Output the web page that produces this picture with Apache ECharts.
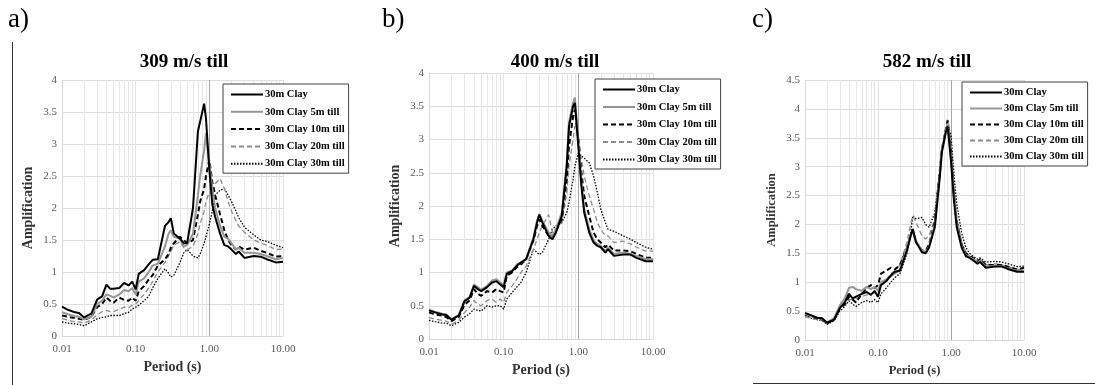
<!DOCTYPE html>
<html>
<head>
<meta charset="utf-8">
<script src="https://cdn.jsdelivr.net/npm/echarts@6/dist/echarts.min.js"></script>
<style>
html, body { margin: 0; padding: 0; background: #fff; }
#chart { width: 1095px; height: 385px; }
</style>
</head>
<body>
<div id="chart"></div>
<script>
// 周期 (s)，三张图共用
const periods = [
  0.01, 0.012, 0.015, 0.017, 0.02, 0.025, 0.03, 0.035,
  0.04, 0.045, 0.05, 0.06, 0.07, 0.08, 0.09, 0.1,
  0.11, 0.13, 0.15, 0.17, 0.2, 0.25, 0.28, 0.3,
  0.33, 0.4, 0.45, 0.5, 0.6, 0.7, 0.75, 0.85,
  0.9, 1.0, 1.1, 1.2, 1.4, 1.6, 1.8, 2.0,
  2.3, 2.5, 3.0, 4.0, 5.0, 6.0, 8.0, 10
]
const seriesNames = ['30m Clay', '30m Clay 5m till', '30m Clay 10m till', '30m Clay 20m till', '30m Clay 30m till']
const xTicks = [0.01, 0.1, 1, 10]
const xTickLabels = ['0.01', '0.10', '1.00', '10.00']

// a) 309 m/s till
const a_clay = [
  0.46, 0.41, 0.37, 0.36, 0.29, 0.35, 0.57, 0.62,
  0.80, 0.74, 0.74, 0.75, 0.83, 0.79, 0.85, 0.73,
  0.97, 1.03, 1.12, 1.19, 1.20, 1.72, 1.78, 1.84,
  1.60, 1.52, 1.45, 1.45, 2.00, 3.20, 3.35, 3.63,
  3.40, 2.60, 2.05, 1.86, 1.60, 1.42, 1.40, 1.35,
  1.28, 1.32, 1.22, 1.25, 1.24, 1.20, 1.15, 1.16
]
const a_till5 = [
  0.37, 0.34, 0.31, 0.30, 0.26, 0.30, 0.50, 0.55,
  0.65, 0.63, 0.60, 0.65, 0.72, 0.70, 0.75, 0.65,
  0.85, 0.90, 1.00, 1.10, 1.13, 1.40, 1.60, 1.65,
  1.55, 1.52, 1.40, 1.42, 1.60, 2.20, 2.50, 2.90,
  3.17, 2.70, 2.30, 2.00, 1.72, 1.55, 1.52, 1.45,
  1.35, 1.38, 1.30, 1.30, 1.28, 1.25, 1.20, 1.22
]
const a_till10 = [
  0.32, 0.30, 0.28, 0.27, 0.25, 0.30, 0.45, 0.50,
  0.60, 0.55, 0.52, 0.60, 0.56, 0.55, 0.60, 0.55,
  0.70, 0.78, 0.88, 0.95, 1.10, 1.20, 1.28, 1.38,
  1.45, 1.55, 1.50, 1.45, 1.50, 1.90, 2.10, 2.30,
  2.50, 2.75, 2.40, 2.20, 1.90, 1.65, 1.50, 1.42,
  1.35, 1.40, 1.35, 1.38, 1.33, 1.30, 1.24, 1.25
]
const a_till20 = [
  0.27, 0.25, 0.22, 0.22, 0.20, 0.25, 0.33, 0.38,
  0.40, 0.38, 0.38, 0.42, 0.45, 0.44, 0.48, 0.50,
  0.55, 0.65, 0.75, 0.85, 1.00, 1.15, 1.25, 1.32,
  1.42, 1.47, 1.38, 1.35, 1.40, 1.60, 1.75, 1.95,
  2.10, 2.25, 2.20, 2.38, 2.46, 2.30, 2.10, 1.95,
  1.80, 1.72, 1.62, 1.50, 1.45, 1.42, 1.35, 1.36
]
const a_till30 = [
  0.22, 0.20, 0.19, 0.18, 0.16, 0.22, 0.27, 0.29,
  0.30, 0.32, 0.32, 0.32, 0.35, 0.37, 0.42, 0.45,
  0.48, 0.55, 0.62, 0.75, 0.90, 1.05, 0.98, 0.92,
  0.95, 1.15, 1.30, 1.35, 1.25, 1.22, 1.28, 1.45,
  1.55, 1.75, 1.95, 2.20, 2.28, 2.30, 2.20, 2.10,
  1.95, 1.85, 1.70, 1.58, 1.50, 1.48, 1.42, 1.38
]

// b) 400 m/s till
const b_clay = [
  0.43, 0.40, 0.37, 0.36, 0.29, 0.35, 0.57, 0.62,
  0.80, 0.75, 0.72, 0.78, 0.85, 0.87, 0.82, 0.78,
  0.98, 1.02, 1.10, 1.15, 1.20, 1.50, 1.75, 1.87,
  1.75, 1.55, 1.50, 1.60, 1.85, 2.60, 3.20, 3.50,
  3.55, 2.90, 2.30, 1.90, 1.60, 1.45, 1.40, 1.38,
  1.30, 1.35, 1.25, 1.27, 1.27, 1.22, 1.17, 1.17
]
const b_till5 = [
  0.44, 0.41, 0.38, 0.37, 0.30, 0.36, 0.58, 0.63,
  0.82, 0.78, 0.74, 0.80, 0.88, 0.90, 0.85, 0.80,
  1.00, 1.03, 1.12, 1.15, 1.20, 1.52, 1.78, 1.88,
  1.78, 1.60, 1.55, 1.65, 1.90, 2.65, 3.25, 3.55,
  3.63, 2.95, 2.35, 1.95, 1.65, 1.48, 1.43, 1.40,
  1.32, 1.37, 1.28, 1.30, 1.28, 1.25, 1.20, 1.20
]
const b_till10 = [
  0.40, 0.37, 0.35, 0.33, 0.27, 0.33, 0.52, 0.58,
  0.75, 0.68, 0.65, 0.72, 0.70, 0.75, 0.72, 0.70,
  0.95, 1.00, 1.08, 1.12, 1.20, 1.48, 1.70, 1.80,
  1.70, 1.55, 1.55, 1.62, 1.80, 2.40, 2.90, 3.35,
  3.45, 3.00, 2.50, 2.15, 1.85, 1.60, 1.50, 1.45,
  1.38, 1.42, 1.33, 1.33, 1.32, 1.28, 1.22, 1.22
]
const b_till20 = [
  0.32, 0.30, 0.28, 0.27, 0.22, 0.28, 0.40, 0.48,
  0.58, 0.52, 0.50, 0.58, 0.60, 0.55, 0.60, 0.55,
  0.70, 0.80, 0.90, 1.00, 1.10, 1.35, 1.50, 1.60,
  1.70, 1.87, 1.60, 1.65, 1.75, 2.20, 2.60, 3.00,
  3.20, 3.05, 2.70, 2.45, 2.15, 1.95, 1.75, 1.65,
  1.55, 1.55, 1.45, 1.47, 1.43, 1.38, 1.32, 1.32
]
const b_till30 = [
  0.28, 0.26, 0.24, 0.24, 0.20, 0.25, 0.33, 0.38,
  0.45, 0.43, 0.42, 0.50, 0.48, 0.50, 0.50, 0.45,
  0.60, 0.70, 0.78, 0.85, 1.00, 1.35, 1.30, 1.27,
  1.30, 1.50, 1.65, 1.70, 1.75, 1.90, 2.05, 2.40,
  2.60, 2.80, 2.75, 2.72, 2.65, 2.45, 2.20, 1.95,
  1.75, 1.65, 1.62, 1.55, 1.50, 1.45, 1.38, 1.35
]

// c) 582 m/s till
const c_clay = [
  0.47, 0.43, 0.38, 0.38, 0.30, 0.35, 0.55, 0.65,
  0.80, 0.72, 0.75, 0.80, 0.83, 0.78, 0.85, 0.75,
  0.95, 1.02, 1.12, 1.18, 1.20, 1.55, 1.80, 1.92,
  1.70, 1.52, 1.50, 1.60, 1.95, 2.80, 3.25, 3.60,
  3.70, 3.10, 2.40, 1.95, 1.60, 1.45, 1.42, 1.38,
  1.32, 1.35, 1.25, 1.27, 1.27, 1.23, 1.18, 1.18
]
const c_till5 = [
  0.45, 0.42, 0.38, 0.37, 0.30, 0.38, 0.60, 0.72,
  0.90, 0.92, 0.88, 0.85, 0.92, 0.88, 0.92, 0.85,
  1.00, 1.05, 1.10, 1.15, 1.22, 1.60, 1.82, 1.90,
  1.72, 1.55, 1.52, 1.62, 2.00, 2.85, 3.30, 3.62,
  3.75, 3.15, 2.45, 2.00, 1.62, 1.47, 1.43, 1.40,
  1.33, 1.37, 1.27, 1.28, 1.28, 1.24, 1.20, 1.20
]
const c_till10 = [
  0.44, 0.41, 0.37, 0.36, 0.29, 0.35, 0.55, 0.62,
  0.75, 0.70, 0.65, 0.80, 0.90, 0.95, 0.90, 0.95,
  1.15, 1.20, 1.25, 1.22, 1.30, 1.60, 1.82, 1.90,
  1.70, 1.55, 1.55, 1.65, 2.05, 2.90, 3.30, 3.65,
  3.80, 3.30, 2.50, 2.05, 1.65, 1.50, 1.45, 1.42,
  1.35, 1.40, 1.30, 1.30, 1.30, 1.27, 1.22, 1.25
]
const c_till20 = [
  0.40, 0.38, 0.35, 0.34, 0.28, 0.35, 0.55, 0.60,
  0.70, 0.70, 0.72, 0.75, 0.78, 0.80, 0.82, 0.80,
  0.95, 1.05, 1.15, 1.20, 1.30, 1.70, 2.00, 2.15,
  2.05, 1.80, 1.75, 1.80, 2.10, 2.85, 3.30, 3.65,
  3.83, 3.40, 2.60, 2.10, 1.70, 1.52, 1.45, 1.42,
  1.36, 1.40, 1.30, 1.32, 1.30, 1.27, 1.22, 1.22
]
const c_till30 = [
  0.42, 0.38, 0.35, 0.34, 0.27, 0.33, 0.50, 0.58,
  0.68, 0.62, 0.58, 0.65, 0.68, 0.65, 0.70, 0.65,
  0.80, 0.90, 1.00, 1.08, 1.15, 1.50, 1.85, 2.15,
  2.10, 2.12, 2.00, 1.95, 2.20, 2.90, 3.30, 3.60,
  3.72, 3.55, 2.85, 2.35, 1.85, 1.60, 1.50, 1.45,
  1.40, 1.42, 1.35, 1.36, 1.35, 1.32, 1.27, 1.28
]

const FONT = 'Liberation Serif'

// 线型：黑实线、灰实线、黑虚线、灰虚线、点线
const lineStyles = [
  { color: '#000', width: 2, type: 'solid' },
  { color: '#969696', width: 2, type: 'solid' },
  { color: '#000', width: 2, type: [5, 3] },
  { color: '#8c8c8c', width: 1.3, type: [5, 3] },
  { color: '#000', width: 1.3, type: [1.5, 1.5] }
]

const panels = [
  { label: 'a)', labelX: 8, title: '309 m/s till', titleX: 184,
    grid: { left: 62, top: 80, width: 221, height: 256 }, yMax: 4, nameSize: 14,
    legend: { left: 223, top: 84, itemGap: 6.3 },
    data: [a_clay, a_till5, a_till10, a_till20, a_till30] },
  { label: 'b)', labelX: 382, title: '400 m/s till', titleX: 555,
    grid: { left: 429, top: 73, width: 224, height: 266 }, yMax: 4, nameSize: 14,
    legend: { left: 595, top: 79, itemGap: 6.5 },
    data: [b_clay, b_till5, b_till10, b_till20, b_till30] },
  { label: 'c)', labelX: 752, title: '582 m/s till', titleX: 927,
    grid: { left: 805, top: 80, width: 219, height: 260 }, yMax: 4.5, nameSize: 12.5,
    legend: { left: 962, top: 82, itemGap: 5 },
    data: [c_clay, c_till5, c_till10, c_till20, c_till30] }
]

// 对数轴的次网格线 0.02 ... 9
const minorX = []
xTicks.slice(0, 3).forEach(function (d) {
  for (let k = 2; k <= 9; k++) minorX.push(+(d * k).toPrecision(3))
})

let chart = echarts.init(document.getElementById('chart'))

let grids = []
let xAxes = []
let yAxes = []
let legends = []
let series = []
let graphics = []

panels.forEach(function (p, pi) {
  grids.push(Object.assign({ outerBoundsMode: 'none', containLabel: false }, p.grid))
  xAxes.push({
    type: 'log',
    logBase: 10,
    gridIndex: pi,
    min: 0.01,
    max: 10,
    name: 'Period (s)',
    nameLocation: 'middle',
    nameGap: 24,
    nameTextStyle: { fontFamily: FONT, fontWeight: 'bold', fontSize: p.nameSize, color: '#333' },
    axisLine: { show: true, lineStyle: { color: '#d9d9d9' } },
    axisTick: { show: false },
    axisLabel: {
      fontFamily: FONT, fontSize: 11, color: '#595959', margin: 8,
      formatter: function (v) {
        let i = xTicks.findIndex(function (t) { return Math.abs(Math.log10(t) - Math.log10(v)) < 1e-6 })
        return i >= 0 ? xTickLabels[i] : ''
      }
    },
    splitLine: { show: true, lineStyle: { color: '#e3e3e3' } }
  })
  yAxes.push({
    type: 'value',
    gridIndex: pi,
    min: 0,
    max: p.yMax,
    interval: 0.5,
    name: 'Amplification',
    nameLocation: 'middle',
    nameGap: 27,
    nameTextStyle: { fontFamily: FONT, fontWeight: 'bold', fontSize: p.nameSize, color: '#333' },
    axisLine: { show: true, lineStyle: { color: '#d9d9d9' } },
    axisTick: { show: false },
    axisLabel: { fontFamily: FONT, fontSize: 11, color: '#595959', margin: 5 },
    splitLine: { show: true, lineStyle: { color: '#dcdcdc' } }
  })
  legends.push({
    left: p.legend.left,
    top: p.legend.top,
    orient: 'vertical',
    itemGap: p.legend.itemGap,
    itemWidth: 32,
    itemHeight: 10,
    padding: [5, 4, 4, 7],
    backgroundColor: '#fff',
    borderColor: '#404040',
    borderWidth: 1,
    borderRadius: 0,
    selectedMode: false,
    itemStyle: { opacity: 0 },
    data: seriesNames,
    textStyle: { fontFamily: FONT, fontWeight: 'bold', fontSize: 10.5, color: '#000', padding: [0, 0, 0, -3] }
  })
  p.data.forEach(function (vals, si) {
    let s = {
      type: 'line',
      name: seriesNames[si],
      xAxisIndex: pi,
      yAxisIndex: pi,
      symbol: 'none',
      z: 3 + (4 - si),
      itemStyle: { color: lineStyles[si].color },
      lineStyle: lineStyles[si],
      data: periods.map(function (t, k) { return [t, vals[k]] })
    }
    if (si === 0) {
      s.markLine = {
        silent: true,
        symbol: 'none',
        z: 1,
        label: { show: false },
        lineStyle: { color: '#e6e6e6', width: 1, type: 'solid' },
        data: minorX.map(function (v) { return { xAxis: v } })
          .concat([{ xAxis: 1, lineStyle: { color: '#a6a6a6', width: 1, type: 'solid' } }])
      }
    }
    series.push(s)
  })
  graphics.push({
    type: 'text', x: p.labelX, y: 20,
    style: { text: p.label, font: '27px ' + FONT, fill: '#000', textAlign: 'left', verticalAlign: 'middle', textVerticalAlign: 'middle' }
  })
  graphics.push({
    type: 'text', x: p.titleX, y: 62,
    style: { text: p.title, font: 'bold 19px ' + FONT, fill: '#000', textAlign: 'center', verticalAlign: 'middle', textVerticalAlign: 'middle' }
  })
})

// 外框线
graphics.push({ type: 'line', shape: { x1: 12.5, y1: 42, x2: 12.5, y2: 385 }, style: { stroke: '#333', lineWidth: 1 } })
graphics.push({ type: 'line', shape: { x1: 753, y1: 383.5, x2: 1095, y2: 383.5 }, style: { stroke: '#333', lineWidth: 1 } })

let option = {
  animation: false,
  backgroundColor: '#fff',
  grid: grids,
  xAxis: xAxes,
  yAxis: yAxes,
  legend: legends,
  series: series,
  graphic: graphics
}

chart.setOption(option)
</script>
</body>
</html>
